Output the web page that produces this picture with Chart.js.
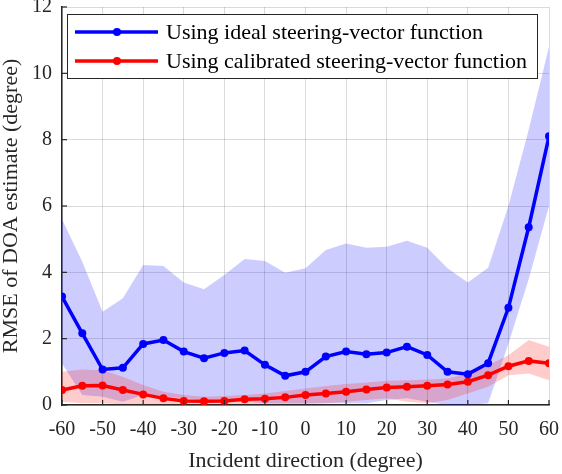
<!DOCTYPE html>
<html>
<head>
<meta charset="utf-8">
<script src="https://cdn.jsdelivr.net/npm/chart.js@4.4.0/dist/chart.umd.min.js"></script>
<style>
  html, body { margin: 0; padding: 0; background: #fff; }
  #wrap { width: 562px; height: 474px; }
</style>
</head>
<body>
<div id="wrap"><canvas id="rmseChart" width="562" height="474"></canvas></div>
<script>
// Incident directions (degree)
const directions = [-60, -55, -50, -45, -40, -35, -30, -25, -20, -15, -10, -5, 0, 5, 10, 15, 20, 25, 30, 35, 40, 45, 50, 55, 60];

// Ideal steering-vector function: mean RMSE and spread band
const idealMean  = [3.27, 2.16, 1.07, 1.12, 1.84, 1.96, 1.61, 1.41, 1.57, 1.64, 1.21, 0.88, 1.0, 1.46, 1.61, 1.53, 1.58, 1.76, 1.51, 1.0, 0.93, 1.26, 2.93, 5.36, 8.1];
const idealUpper = [5.6, 4.32, 2.81, 3.22, 4.22, 4.19, 3.69, 3.49, 3.92, 4.4, 4.34, 3.99, 4.12, 4.67, 4.87, 4.74, 4.77, 4.95, 4.74, 4.12, 3.69, 4.14, 6.0, 8.3, 10.8];
const idealLower = [1.25, 0.3, 0.25, 0.1, 0.3, 0.25, 0.2, 0.15, 0.15, 0.1, 0.05, 0.05, 0.05, 0.05, 0.05, 0.05, 0.15, 0.2, 0.1, 0.0, 0.0, 0.05, 1.85, 3.8, 6.0];

// Calibrated steering-vector function: mean RMSE and spread band
const calibMean  = [0.45, 0.58, 0.59, 0.45, 0.32, 0.2, 0.12, 0.11, 0.12, 0.17, 0.19, 0.23, 0.3, 0.35, 0.4, 0.47, 0.53, 0.55, 0.58, 0.62, 0.7, 0.9, 1.17, 1.33, 1.26];
const calibUpper = [1.0, 1.07, 1.05, 0.85, 0.6, 0.4, 0.3, 0.25, 0.27, 0.3, 0.35, 0.42, 0.5, 0.57, 0.63, 0.68, 0.73, 0.75, 0.77, 0.8, 0.95, 1.2, 1.5, 1.96, 1.76];
const calibLower = [0.1, 0.05, 0.05, 0.02, 0.02, 0.02, 0.02, 0.02, 0.02, 0.03, 0.03, 0.03, 0.03, 0.05, 0.1, 0.15, 0.2, 0.1, 0.05, 0.15, 0.35, 0.55, 0.9, 0.95, 0.75];

// Tick values
const xTicks = [-60, -50, -40, -30, -20, -10, 0, 10, 20, 30, 40, 50, 60];
const yTicks = [0, 2, 4, 6, 8, 10, 12];

const AXIS_COLOR = '#262626';
const SERIF = '"Liberation Serif", "Times New Roman", serif';

function pts(values) {
    return directions.map((d, i) => ({ x: d, y: values[i] }));
}

// Inward tick marks, MATLAB style
const innerTicks = {
    id: 'innerTicks',
    afterDatasetsDraw(chart) {
        const { ctx, chartArea, scales } = chart;
        ctx.save();
        ctx.strokeStyle = AXIS_COLOR;
        ctx.lineWidth = 1.2;
        xTicks.forEach(v => {
            const px = scales.x.getPixelForValue(v);
            ctx.beginPath();
            ctx.moveTo(px, chartArea.bottom);
            ctx.lineTo(px, chartArea.bottom - 5);
            ctx.stroke();
        });
        yTicks.forEach(v => {
            const py = scales.y.getPixelForValue(v);
            ctx.beginPath();
            ctx.moveTo(chartArea.left, py);
            ctx.lineTo(chartArea.left + 5, py);
            ctx.stroke();
        });
        ctx.restore();
    }
};

// Boxed legend inside the plot area
const boxLegend = {
    id: 'boxLegend',
    afterDraw(chart) {
        const { ctx, chartArea } = chart;
        const items = chart.data.datasets.filter(ds => ds.showInLegend);
        const x0 = chartArea.left + 5, y0 = chartArea.top + 7;
        const w = 470, rowH = 29, h = 64;
        ctx.save();
        ctx.fillStyle = '#fff';
        ctx.fillRect(x0, y0, w, h);
        ctx.strokeStyle = AXIS_COLOR;
        ctx.lineWidth = 1;
        ctx.strokeRect(x0 + 0.5, y0 + 0.5, w, h);
        ctx.font = '22px ' + SERIF;
        ctx.textBaseline = 'middle';
        items.forEach((ds, i) => {
            const cy = y0 + 18 + i * rowH;
            ctx.strokeStyle = ds.borderColor;
            ctx.lineWidth = 3.5;
            ctx.beginPath();
            ctx.moveTo(x0 + 8, cy);
            ctx.lineTo(x0 + 91, cy);
            ctx.stroke();
            ctx.fillStyle = ds.borderColor;
            ctx.beginPath();
            ctx.arc(x0 + 50, cy, 4, 0, Math.PI * 2);
            ctx.fill();
            ctx.fillStyle = '#000';
            ctx.fillText(ds.label, x0 + 99, cy + 1);
        });
        ctx.restore();
    }
};

const ctx = document.getElementById('rmseChart').getContext('2d');
new Chart(ctx, {
    type: 'line',
    data: {
        datasets: [
            {
                label: 'Using ideal steering-vector function',
                showInLegend: true,
                data: pts(idealMean),
                borderColor: '#0000ff',
                backgroundColor: '#0000ff',
                borderWidth: 3.5,
                pointRadius: 4,
                pointBorderWidth: 0,
                fill: false,
                order: 0
            },
            {
                label: 'Using calibrated steering-vector function',
                showInLegend: true,
                data: pts(calibMean),
                borderColor: '#ff0000',
                backgroundColor: '#ff0000',
                borderWidth: 3.5,
                pointRadius: 4,
                pointBorderWidth: 0,
                fill: false,
                order: 1
            },
            {
                label: 'calib upper',
                data: pts(calibUpper),
                borderWidth: 0,
                pointRadius: 0,
                backgroundColor: 'rgba(255, 0, 0, 0.2)',
                fill: '+1',
                order: 2
            },
            {
                label: 'calib lower',
                data: pts(calibLower),
                borderWidth: 0,
                pointRadius: 0,
                fill: false,
                order: 3
            },
            {
                label: 'ideal upper',
                data: pts(idealUpper),
                borderWidth: 0,
                pointRadius: 0,
                backgroundColor: 'rgba(0, 0, 255, 0.2)',
                fill: '+1',
                order: 4
            },
            {
                label: 'ideal lower',
                data: pts(idealLower),
                borderWidth: 0,
                pointRadius: 0,
                fill: false,
                order: 5
            }
        ]
    },
    options: {
        responsive: false,
        animation: false,
        layout: { padding: { top: 7, right: 13, left: 0, bottom: 0 } },
        plugins: {
            legend: { display: false },
            tooltip: { enabled: false }
        },
        scales: {
            x: {
                type: 'linear',
                min: -60,
                max: 60,
                afterFit(scale) {
                    scale.height = 69;
                    scale.paddingLeft = 0;
                    scale.paddingRight = 0;
                },
                afterBuildTicks(scale) {
                    scale.ticks = xTicks.map(v => ({ value: v }));
                },
                grid: { color: 'rgba(0,0,0,0.14)', lineWidth: 1, drawTicks: false },
                border: { color: AXIS_COLOR, width: 1.5 },
                ticks: {
                    color: AXIS_COLOR,
                    padding: 13,
                    maxRotation: 0,
                    autoSkip: false,
                    font: { family: SERIF, size: 20 }
                },
                title: {
                    display: true,
                    text: 'Incident direction (degree)',
                    color: AXIS_COLOR,
                    padding: 0,
                    font: { family: SERIF, size: 22 }
                }
            },
            y: {
                min: 0,
                max: 12,
                afterFit(scale) {
                    scale.width = 62;
                    scale.paddingTop = 0;
                    scale.paddingBottom = 0;
                },
                afterBuildTicks(scale) {
                    scale.ticks = yTicks.map(v => ({ value: v }));
                },
                grid: { color: 'rgba(0,0,0,0.14)', lineWidth: 1, drawTicks: false },
                border: { color: AXIS_COLOR, width: 1.5 },
                ticks: {
                    color: AXIS_COLOR,
                    padding: 10,
                    autoSkip: false,
                    font: { family: SERIF, size: 20 }
                },
                title: {
                    display: true,
                    text: 'RMSE of DOA estimate (degree)',
                    color: AXIS_COLOR,
                    padding: 0,
                    font: { family: SERIF, size: 22, lineHeight: 1 }
                }
            }
        }
    },
    plugins: [innerTicks, boxLegend]
});
</script>
</body>
</html>
